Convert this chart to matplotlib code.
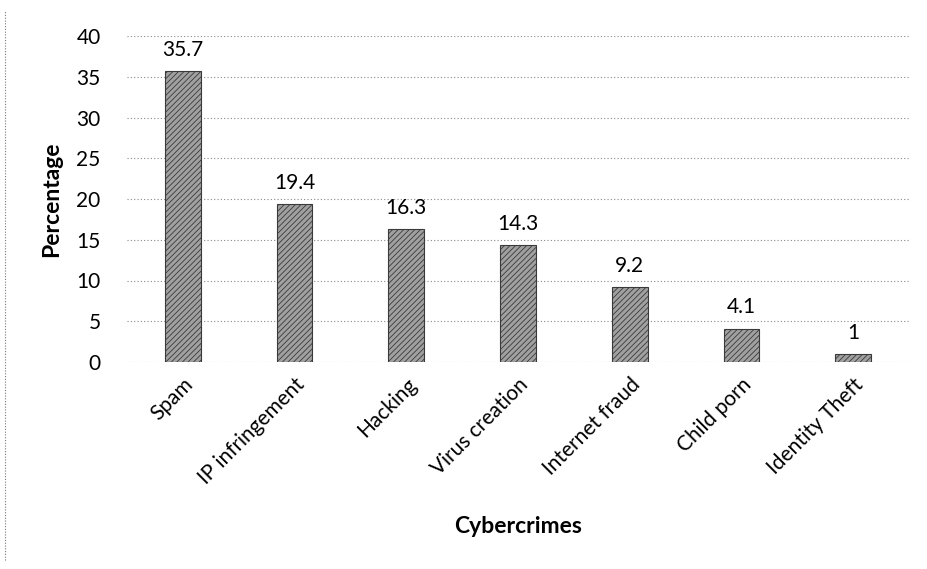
import matplotlib
matplotlib.use('Agg')
import matplotlib.pyplot as plt
import numpy as np

plt.rcParams['font.family'] = ['Lato', 'DejaVu Sans']
plt.rcParams['hatch.color'] = '#5a5a5a'
plt.rcParams['hatch.linewidth'] = 0.6

crimes = ["Spam", "IP infringement", "Hacking", "Virus creation",
          "Internet fraud", "Child porn", "Identity Theft"]
pct = [35.7, 19.4, 16.3, 14.3, 9.2, 4.1, 1]
yticks = [0, 5, 10, 15, 20, 25, 30, 35, 40]

fig = plt.figure(figsize=(9.27, 5.69), dpi=100)
ax = fig.add_axes([127/927, 1 - 362/569, 782/927, 326/569])

x = np.arange(len(crimes))
ax.set_axisbelow(True)
ax.bar(x, pct, width=0.32, color='#a0a0a0', edgecolor='#3a3a3a',
       linewidth=0.8, hatch='//////', zorder=3)
for xi, v in zip(x, pct):
    ax.annotate(f"{v:g}", (xi, v), xytext=(0, 8), textcoords='offset points',
                ha='center', va='bottom', fontsize=15)

ax.set_xlim(-0.5, len(crimes) - 0.5)
ax.set_ylim(0, 40)
ax.set_yticks(yticks)
ax.yaxis.grid(True, linestyle=(0, (1, 2)), color='#888888', linewidth=0.8)
for s in ax.spines.values():
    s.set_visible(False)
ax.tick_params(length=0, labelsize=15)
ax.tick_params(axis='y', pad=19)
ax.tick_params(axis='x', pad=9)
ax.set_xticks(x)
ax.set_xticklabels(crimes, rotation=45, ha='right', rotation_mode='anchor')

ax.set_ylabel("Percentage", fontsize=16.5, fontweight='bold', labelpad=10)
ax.set_xlabel("Cybercrimes", fontsize=16.5, fontweight='bold', labelpad=20)

# dotted page border on the left
fig.add_artist(plt.Line2D([5/927, 5/927], [1 - 560/569, 1 - 10/569],
                          linestyle=(0, (1, 1.5)), color='#777777', linewidth=0.8))

fig.savefig("out.png", dpi=100, facecolor='white')
